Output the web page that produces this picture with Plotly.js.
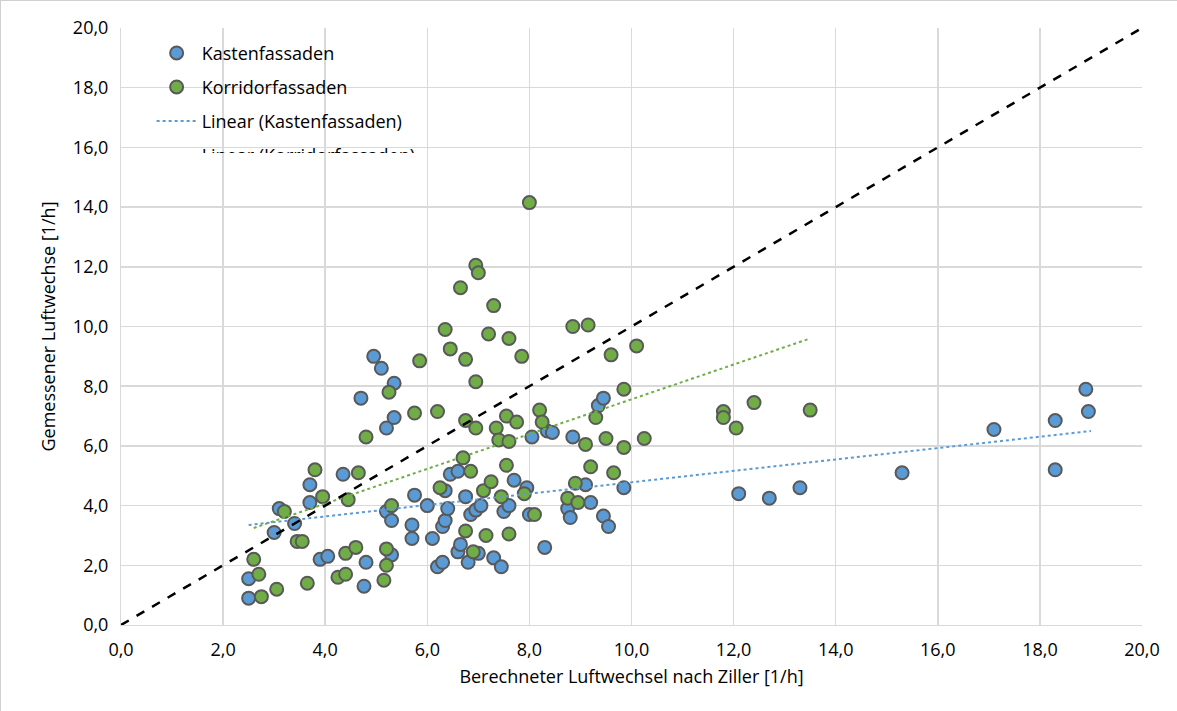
<!DOCTYPE html>
<html>
<head>
<meta charset="utf-8">
<script src="https://cdn.plot.ly/plotly-3.0.1.min.js"></script>
<style>
  body { margin: 0; }
  #plot { width: 1177px; height: 711px; box-sizing: border-box; border: 1px solid #d0d0d0; }
</style>
</head>
<body>
<div id="plot"></div>
<script>
// Kastenfassaden (x = berechnet, y = gemessen)
var kastenX = [2.5, 2.5, 3.0, 3.1, 3.4, 3.7, 3.7, 3.9, 4.05, 4.35, 4.7, 4.8, 4.76, 4.95, 5.1, 5.2, 5.2, 5.3, 5.3, 5.35, 5.35,
  5.7, 5.7, 5.75, 6.0, 6.1, 6.2, 6.3, 6.3, 6.35, 6.35, 6.4, 6.45, 6.6, 6.6, 6.65, 6.75, 6.8, 6.85, 6.95, 7.0, 7.05,
  7.3, 7.45, 7.5, 7.6, 7.7, 7.95, 8.0, 8.05, 8.3, 8.35, 8.45, 8.75, 8.8, 8.85, 9.1, 9.2, 9.35, 9.45, 9.45, 9.55, 9.85,
  12.1, 12.7, 13.3, 15.3, 17.1, 18.3, 18.3, 18.9, 18.95];
var kastenY = [0.9, 1.55, 3.1, 3.9, 3.4, 4.1, 4.7, 2.2, 2.3, 5.05, 7.6, 2.1, 1.3, 9.0, 8.6, 6.6, 3.8, 3.5, 2.35, 6.95, 8.1,
  3.35, 2.9, 4.35, 4.0, 2.9, 1.95, 2.1, 3.3, 3.5, 4.5, 3.9, 5.05, 5.15, 2.45, 2.7, 4.3, 2.1, 3.7, 3.85, 2.4, 4.0,
  2.25, 1.95, 3.8, 4.0, 4.85, 4.6, 3.7, 6.3, 2.6, 6.5, 6.45, 3.9, 3.6, 6.3, 4.7, 4.1, 7.35, 7.6, 3.65, 3.3, 4.6,
  4.4, 4.25, 4.6, 5.1, 6.55, 6.85, 5.2, 7.9, 7.15];

// Korridorfassaden
var korridorX = [2.6, 2.7, 2.75, 3.05, 3.2, 3.45, 3.55, 3.65, 3.8, 3.95, 4.25, 4.4, 4.4, 4.45, 4.6, 4.65, 4.8, 5.15, 5.2, 5.2,
  5.25, 5.3, 5.75, 5.85, 6.2, 6.25, 6.35, 6.45, 6.65, 6.7, 6.75, 6.75, 6.75, 6.85, 6.9, 6.95, 6.95, 6.95, 7.0, 7.1,
  7.15, 7.2, 7.25, 7.3, 7.35, 7.4, 7.45, 7.55, 7.6, 7.6, 7.55, 7.6, 7.75, 7.85, 7.9, 8.0, 8.1, 8.2, 8.25, 8.75,
  8.85, 8.9, 8.95, 9.15, 9.1, 9.2, 9.3, 9.5, 9.6, 9.65, 9.85, 9.85, 10.1, 10.25, 11.8, 11.8, 12.05, 12.4, 13.5];
var korridorY = [2.2, 1.7, 0.95, 1.2, 3.8, 2.8, 2.8, 1.4, 5.2, 4.3, 1.6, 2.4, 1.7, 4.2, 2.6, 5.1, 6.3, 1.5, 2.55, 2.0,
  7.8, 4.0, 7.1, 8.85, 7.15, 4.6, 9.9, 9.25, 11.3, 5.6, 8.9, 3.15, 6.85, 5.15, 2.45, 12.05, 8.15, 6.6, 11.8, 4.5,
  3.0, 9.75, 4.8, 10.7, 6.6, 6.2, 4.3, 7.0, 6.15, 9.6, 5.35, 3.05, 6.8, 9.0, 4.4, 14.15, 3.7, 7.2, 6.8, 4.25,
  10.0, 4.75, 4.1, 10.05, 6.05, 5.3, 6.95, 6.25, 9.05, 5.1, 5.95, 7.9, 9.35, 6.25, 7.15, 6.95, 6.6, 7.45, 7.2];

var trendKastenX = [2.5, 19.0];
var trendKastenY = [3.35, 6.5];
var trendKorridorX = [2.6, 13.5];
var trendKorridorY = [3.25, 9.6];
var diagX = [0, 20];
var diagY = [0, 20];

var marker = function(c) {
  return { color: c, size: 13, line: { color: '#595959', width: 2 } };
};

var data = [
  { x: kastenX, y: kastenY, mode: 'markers', name: 'Kastenfassaden', marker: marker('#5b9bd5') },
  { x: korridorX, y: korridorY, mode: 'markers', name: 'Korridorfassaden', marker: marker('#70ad47') },
  { x: trendKastenX, y: trendKastenY, mode: 'lines', name: 'Linear (Kastenfassaden)',
    line: { color: '#5b9bd5', width: 2, dash: 'dot' } },
  { x: trendKorridorX, y: trendKorridorY, mode: 'lines', name: 'Linear (Korridorfassaden)',
    line: { color: '#70ad47', width: 2, dash: 'dot' } },
  { x: diagX, y: diagY, mode: 'lines', showlegend: false, hoverinfo: 'skip',
    line: { color: '#000', width: 2.5, dash: 'dash' } }
];

var axis = {
  range: [0, 20], dtick: 2, tickformat: '.1f', showgrid: true, gridcolor: '#d9d9d9', gridwidth: 1.5,
  zeroline: false, showline: true, linecolor: '#d9d9d9', mirror: false, ticks: 'outside', ticklen: 8,
  tickcolor: 'rgba(0,0,0,0)', tickfont: { size: 18, color: '#000' }, fixedrange: true
};

var layout = {
  width: 1177, height: 711,
  margin: { l: 120, r: 36, t: 27, b: 87 },
  font: { family: 'Open Sans, Liberation Sans, sans-serif', color: '#000' },
  separators: ',.',
  paper_bgcolor: '#fff', plot_bgcolor: '#fff',
  xaxis: Object.assign({}, axis, { title: { text: 'Berechneter Luftwechsel nach Ziller [1/h]', font: { size: 18 }, standoff: 10 } }),
  yaxis: Object.assign({}, axis, { title: { text: 'Gemessener Luftwechse [1/h]', font: { size: 18 }, standoff: 12 } }),
  legend: { x: 0.03, y: 0.985, traceorder: 'normal', bgcolor: 'rgba(255,255,255,0)', font: { size: 18 },
    itemwidth: 40, tracegroupgap: 0, entrywidth: 0, valign: 'middle' }
};

Plotly.newPlot('plot', data, layout, { displayModeBar: false, staticPlot: true }).then(function() {
  // etwas mehr Zeilenabstand in der Legende wie im Original
  var items = document.querySelectorAll('.legend .traces');
  items.forEach(function(el, i) {
    el.setAttribute('transform', 'translate(0,' + (16 + i * 34) + ')');
  });
});
</script>
</body>
</html>
